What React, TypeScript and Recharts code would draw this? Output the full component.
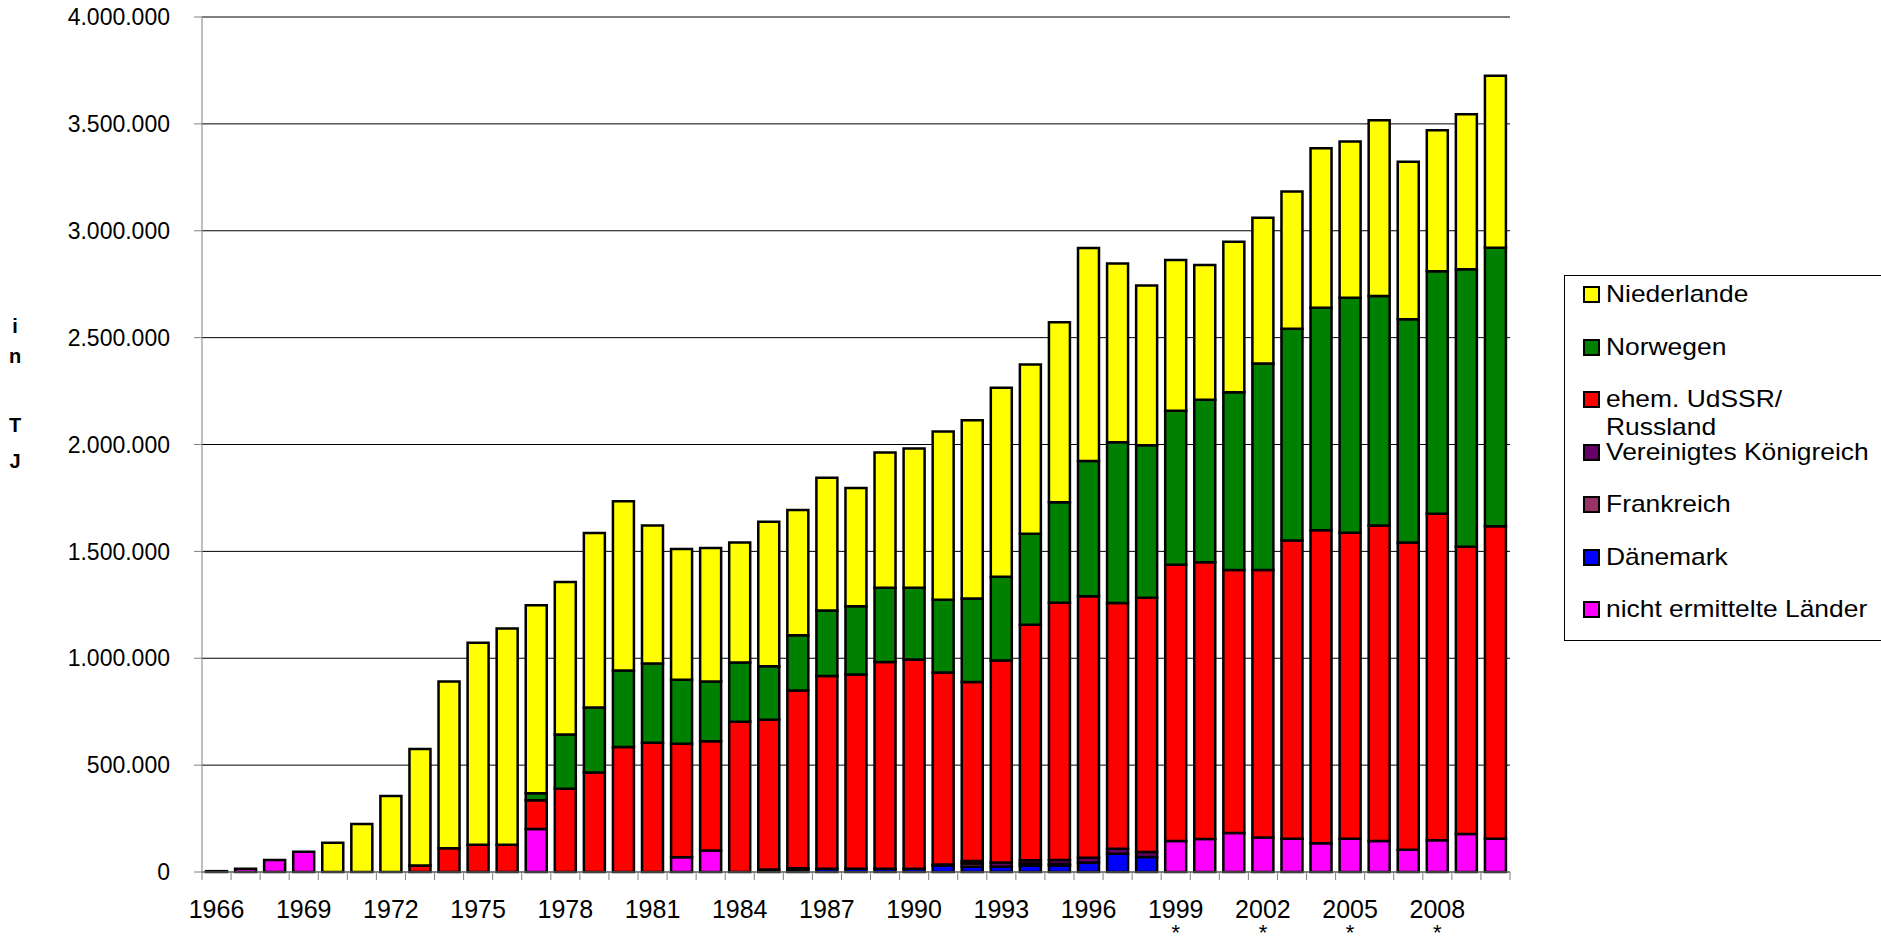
import { Bar, BarChart, CartesianGrid, Label, Legend, XAxis, YAxis } from "recharts";

const years = [
  "1966", "1967", "1968", "1969", "1970", "1971", "1972", "1973", "1974", "1975",
  "1976", "1977", "1978", "1979", "1980", "1981", "1982", "1983", "1984", "1985",
  "1986", "1987", "1988", "1989", "1990", "1991", "1992", "1993", "1994", "1995",
  "1996", "1997", "1998", "1999", "2000", "2001", "2002", "2003", "2004", "2005",
  "2006", "2007", "2008", "2009", "2010",
];

// years marked with * below the axis label
const starYears = ["1999", "2002", "2005", "2008"];

const nichtErmittelt = [
  4000, 15000, 56000, 95000, 0, 0, 0, 0, 0, 0,
  0, 201000, 0, 0, 0, 0, 69000, 101000, 0, 0,
  0, 0, 0, 0, 0, 0, 0, 0, 0, 0,
  0, 0, 0, 145000, 154000, 182000, 161000, 156000, 134000, 156000,
  145000, 104000, 148000, 178000, 156000,
];

const daenemark = [
  0, 0, 0, 0, 0, 0, 0, 0, 0, 0,
  0, 0, 0, 0, 0, 0, 0, 0, 0, 0,
  12000, 15000, 15000, 15000, 15000, 30000, 25000, 25000, 30000, 30000,
  45000, 85000, 70000, 0, 0, 0, 0, 0, 0, 0,
  0, 0, 0, 0, 0,
];

const frankreich = [
  0, 0, 0, 0, 0, 0, 0, 0, 0, 0,
  0, 0, 0, 0, 0, 0, 0, 0, 0, 0,
  0, 0, 0, 0, 0, 0, 15000, 0, 10000, 8000,
  0, 0, 0, 0, 0, 0, 0, 0, 0, 0,
  0, 0, 0, 0, 0,
];

const vereinigtesKoenigreich = [
  0, 0, 0, 0, 0, 0, 0, 0, 0, 0,
  0, 0, 0, 0, 0, 0, 0, 0, 0, 12000,
  6000, 0, 0, 0, 0, 5000, 12000, 20000, 15000, 18000,
  22000, 24000, 23000, 0, 0, 0, 0, 0, 0, 0,
  0, 0, 0, 0, 0,
];

const udssrRussland = [
  0, 0, 0, 0, 0, 0, 0, 30000, 111000, 128000,
  128000, 135000, 389000, 465000, 585000, 605000, 531000, 511000, 703000, 700000,
  831000, 902000, 909000, 968000, 979000, 898000, 837000, 945000, 1102000, 1204000,
  1223000, 1150000, 1190000, 1293000, 1295000, 1231000, 1252000, 1395000, 1465000, 1431000,
  1476000, 1438000, 1528000, 1344000, 1461000,
];

const norwegen = [
  0, 0, 0, 0, 0, 0, 0, 0, 0, 0,
  0, 32000, 254000, 305000, 358000, 371000, 300000, 279000, 277000, 251000,
  259000, 306000, 319000, 347000, 336000, 341000, 391000, 391000, 425000, 470000,
  633000, 752000, 714000, 720000, 760000, 832000, 966000, 991000, 1041000, 1099000,
  1074000, 1044000, 1134000, 1298000, 1303000,
];

const niederlande = [
  0, 0, 0, 0, 137000, 224000, 355000, 545000, 780000, 945000,
  1011000, 880000, 714000, 816000, 791000, 645000, 611000, 625000, 561000, 676000,
  585000, 621000, 553000, 633000, 651000, 787000, 834000, 884000, 792000, 842000,
  996000, 836000, 747000, 705000, 631000, 704000, 682000, 642000, 746000, 732000,
  822000, 737000, 660000, 725000, 805000,
];

const yTicks = [0, 500000, 1000000, 1500000, 2000000, 2500000, 3000000, 3500000, 4000000];

// stacking order, bottom first
const series = [
  { key: "nicht", name: "nicht ermittelte Länder", color: "#FF00FF", values: nichtErmittelt },
  { key: "dk", name: "Dänemark", color: "#0000FF", values: daenemark },
  { key: "fr", name: "Frankreich", color: "#993366", values: frankreich },
  { key: "uk", name: "Vereinigtes Königreich", color: "#660066", values: vereinigtesKoenigreich },
  { key: "ru", name: "ehem. UdSSR/ Russland", color: "#FF0000", values: udssrRussland },
  { key: "no", name: "Norwegen", color: "#008000", values: norwegen },
  { key: "nl", name: "Niederlande", color: "#FFFF00", values: niederlande },
];

const data = years.map((year, i) => {
  const row: Record<string, string | number> = { year };
  series.forEach((s) => {
    row[s.key] = s.values[i];
  });
  return row;
});

const PLOT_LEFT = 202;
const PLOT_RIGHT = 1510;
const BAND = (PLOT_RIGHT - PLOT_LEFT) / years.length;

const formatDe = (v: number) => String(v).replace(/\B(?=(\d{3})+(?!\d))/g, ".");

function YearTick(props: any) {
  const { x, y, payload, index } = props;
  const year: string = payload.value;
  return (
    <g>
      <line x1={x - BAND / 2} x2={x - BAND / 2} y1={y} y2={y + 8} stroke="#808080" />
      {index === years.length - 1 && (
        <line x1={x + BAND / 2} x2={x + BAND / 2} y1={y} y2={y + 8} stroke="#808080" />
      )}
      {index % 3 === 0 && (
        <text x={x} y={y + 46} textAnchor="middle" fontSize={25} fill="#000">
          {year}
        </text>
      )}
      {starYears.includes(year) && (
        <text x={x} y={y + 68} textAnchor="middle" fontSize={22} fill="#000">
          *
        </text>
      )}
    </g>
  );
}

function YLabel() {
  return (
    <g fontWeight="bold" fontSize={20} fill="#000">
      <text x={15} y={333} textAnchor="middle">i</text>
      <text x={15} y={363} textAnchor="middle">n</text>
      <text x={15} y={432} textAnchor="middle">T</text>
      <text x={15} y={468} textAnchor="middle">J</text>
    </g>
  );
}

function LegendBox() {
  const items = [...series].reverse();
  return (
    <div
      style={{
        boxSizing: "border-box",
        width: 317,
        height: 366,
        border: "1px solid #000",
        borderRight: "none",
        position: "relative",
        background: "#fff",
      }}
    >
      {items.map((s, i) => (
        <div key={s.key}>
          <span
            style={{
              position: "absolute",
              left: 18,
              top: 10 + i * 52.5,
              width: 17,
              height: 17,
              boxSizing: "border-box",
              border: "2px solid #000",
              background: s.color,
            }}
          />
          <span
            style={{
              position: "absolute",
              left: 41,
              top: 4 + i * 52.5,
              width: 250,
              fontSize: 24,
              lineHeight: "28px",
              color: "#000",
              transform: "scaleX(1.1)",
              transformOrigin: "0 0",
            }}
          >
            {s.name}
          </span>
        </div>
      ))}
    </div>
  );
}

export default function App() {
  return (
    <div
      style={{
        position: "absolute",
        left: 0,
        top: 0,
        width: 1881,
        height: 945,
        background: "#fff",
        fontFamily: "'Liberation Sans', Arial, sans-serif",
      }}
    >
      <BarChart
        width={1881}
        height={945}
        data={data}
        margin={{ top: 17, right: 1881 - PLOT_RIGHT, bottom: 0, left: 0 }}
        barSize={21}
      >
        <CartesianGrid vertical={false} stroke="#000" strokeWidth={1} />
        <XAxis
          dataKey="year"
          height={73}
          interval={0}
          axisLine={{ stroke: "#808080" }}
          tickLine={false}
          tickSize={0}
          tickMargin={0}
          tick={<YearTick />}
        />
        <YAxis
          width={PLOT_LEFT}
          domain={[0, 4000000]}
          ticks={yTicks}
          interval={0}
          tickFormatter={formatDe}
          axisLine={{ stroke: "#808080" }}
          tickLine={{ stroke: "#808080" }}
          tickSize={8}
          tickMargin={24}
          tick={{ fill: "#000", fontSize: 23 }}
        >
          <Label content={<YLabel />} />
        </YAxis>
        <Legend
          layout="vertical"
          align="center"
          verticalAlign="middle"
          wrapperStyle={{ position: "absolute", left: 1564, top: 275, width: 317, height: 366 }}
          content={() => <LegendBox />}
        />
        {series.map((s) => (
          <Bar
            key={s.key}
            dataKey={s.key}
            name={s.name}
            stackId="a"
            fill={s.color}
            stroke="#000"
            strokeWidth={2.5}
            isAnimationActive={false}
          />
        ))}
      </BarChart>
    </div>
  );
}
